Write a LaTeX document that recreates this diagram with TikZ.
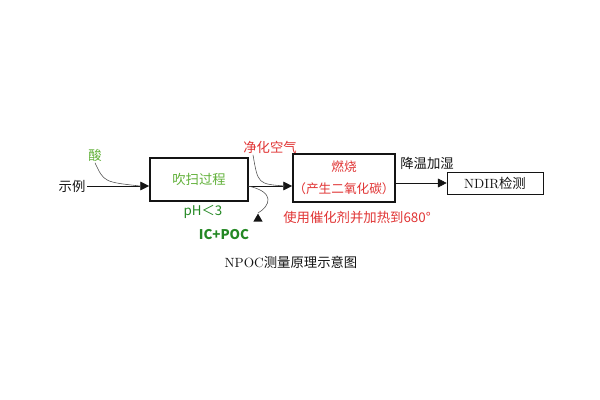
\documentclass[tikz,border=0pt]{standalone}
\usepackage{fontspec}
\newfontfamily\cjk{Noto Sans CJK SC}
\definecolor{leaf}{RGB}{96,176,56}
\definecolor{moss}{RGB}{36,136,36}
\definecolor{flame}{RGB}{224,52,52}
\definecolor{ink}{RGB}{20,20,20}
\usetikzlibrary{arrows.meta,shapes.geometric}

\begin{document}
\begin{tikzpicture}[x=0.025cm,y=-0.025cm,
    every node/.style={font=\cjk\fontsize{9.5}{16}\selectfont, inner sep=1pt, text=ink},
    stage/.style={draw=ink, line width=1.3pt, align=center, inner sep=0pt},
    flow/.style={ink, -{Triangle[length=2.2mm,width=2.2mm]}},
    feed/.style={ink!75, thin}]
        \useasboundingbox (0,0) rectangle (600,400);
        % boxes
        \node[stage, minimum width=2.45cm, minimum height=1.075cm, text=leaf] (purge) at (199,179.5) {吹扫过程};
        \node[stage, minimum width=2.55cm, minimum height=1.2cm, text=flame, font=\cjk\fontsize{9}{16}\selectfont] (burn) at (344,178) {燃烧\\（产生二氧化碳）};
        \node[draw=ink, thin, minimum width=2.4cm, minimum height=0.55cm] (ndir) at (495,183) {\rmfamily NDIR\cjk 检测};
        % labels
        \node (sample) at (72,186) {示例};
        \node[text=leaf] (acid) at (95,155) {酸};
        \node[text=moss] (ph) at (203,212) {pH＜3};
        \node[text=moss, font=\cjk\bfseries\fontsize{9.5}{11}\selectfont] (icpoc) at (224,235) {IC+POC};
        \node[text=flame] (air) at (270,147) {净化空气};
        \node (cool) at (427,163) {降温加湿};
        \node[text=flame] (heat) at (357,217) {使用催化剂并加热到680°};
        \node[font=\rmfamily\fontsize{9.5}{11}\selectfont] (title) at (291,262) {NPOC\cjk 测量原理示意图};
        % joins
        \coordinate (acidjoin) at (140,186);
        \coordinate (mid) at (248,186);
        \coordinate (airjoin) at (285,186);
        \node[regular polygon, regular polygon sides=3, fill=ink, inner sep=0pt, minimum size=0.27cm] (vent) at (258,219) {};
        % connectors
        \draw[flow] (sample.east) -- (sample.east -| purge.west);
        \draw[feed] (acid.south) .. controls (104,182) .. (acidjoin);
        \draw[flow] (mid) -- (mid -| burn.west);
        \draw[feed] (air.south -| 253,0) .. controls (258,184) .. (airjoin);
        \draw[feed] (mid) .. controls (276,192) and (270,206) .. (vent.north);
        \draw[flow] (ndir.west -| burn.east) -- (ndir.west);
\end{tikzpicture}
\end{document}
